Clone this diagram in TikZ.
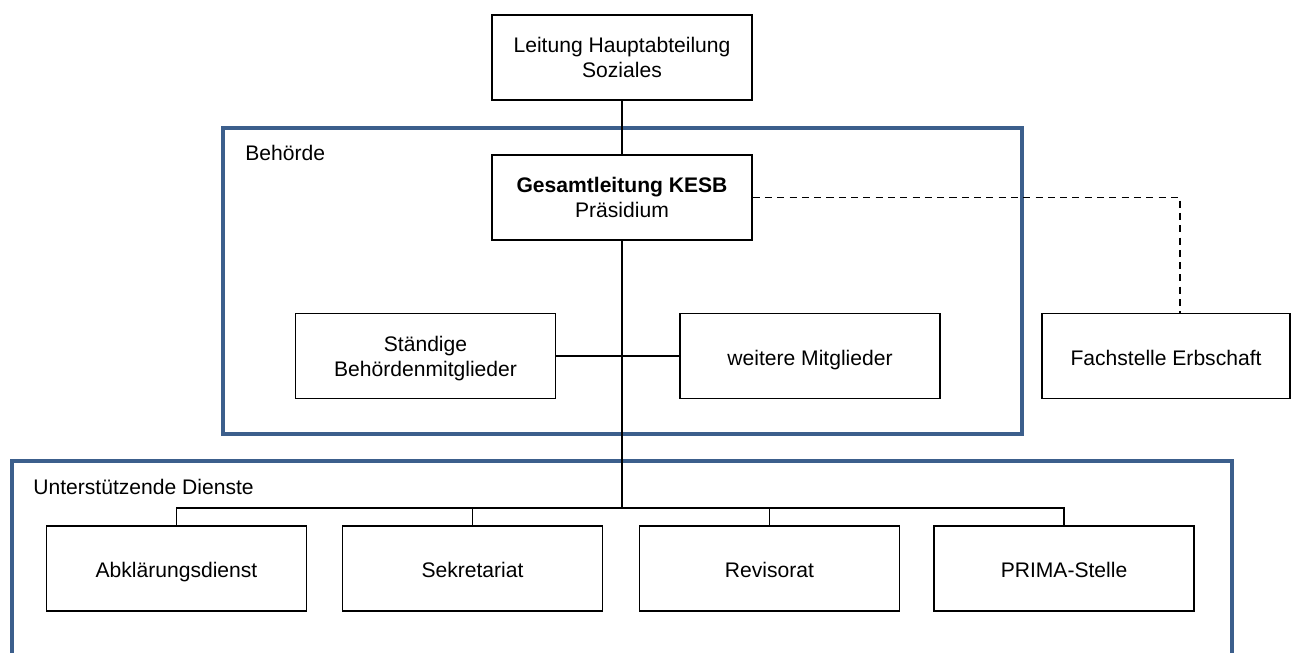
\documentclass[tikz,border=0pt]{standalone}
\usepackage{fontspec}
\setmainfont{Liberation Sans}
\definecolor{rahmenblau}{RGB}{60,95,140}

\begin{document}
\begin{tikzpicture}[x=0.02cm,y=-0.02cm,
	kasten/.style={draw,line width=0.8pt,align=center,minimum width=5.2cm,minimum height=1.7cm,inner sep=1pt,font=\fontsize{12}{14.2}\selectfont,execute at begin node={\rule{0pt}{14.5pt}},execute at end node=\strut},
	zweizeilig/.style={execute at begin node={},execute at end node={},text depth=-4pt},
	rahmen/.style={draw=rahmenblau,line width=2.2pt},
	linie/.style={line width=1.1pt},
	titel/.style={anchor=west,inner sep=0pt,font=\fontsize{12}{14.2}\selectfont}]
	\clip (0,0) rectangle (1293,652);
	\draw[rahmen] (223,128) rectangle (1022,434);
	\draw[rahmen] (12,461) rectangle (1232,700);
	\node[titel] (behoerde) at (245,153) {Behörde};
	\node[titel] (dienste) at (33,487) {Unterstützende Dienste};
	\node[kasten,zweizeilig] (leitung) at (622,57.5) {Leitung Hauptabteilung\\Soziales};
	\node[kasten,zweizeilig] (gesamt) at (622,197.5) {\textbf{Gesamtleitung KESB}\\Präsidium};
	\node[kasten,zweizeilig] (staendig) at (425.5,356) {Ständige\\Behördenmitglieder};
	\node[kasten] (weitere) at (810,356) {weitere Mitglieder};
	\node[kasten,minimum width=4.96cm] (erbschaft) at (1166,356) {Fachstelle Erbschaft};
	\node[kasten] (abklaerung) at (176.5,568.5) {Abklärungsdienst};
	\node[kasten] (sekretariat) at (472.5,568.5) {Sekretariat};
	\node[kasten] (revisorat) at (769.5,568.5) {Revisorat};
	\node[kasten] (prima) at (1064,568.5) {PRIMA-Stelle};
	\coordinate (bus) at (622,508);
	\draw[linie] (leitung) -- (gesamt);
	\draw[linie] (gesamt) -- (bus);
	\draw[linie] (staendig) -- (weitere);
	\draw[linie] (abklaerung.north) |- (bus) -| (prima.north);
	\draw[linie] (sekretariat.north) -- (sekretariat.north |- bus);
	\draw[linie] (revisorat.north) -- (revisorat.north |- bus);
	\draw[linie,dash pattern=on 4pt off 3pt] (gesamt.east) -| ([xshift=0.28cm]erbschaft.north);
\end{tikzpicture}
\end{document}
